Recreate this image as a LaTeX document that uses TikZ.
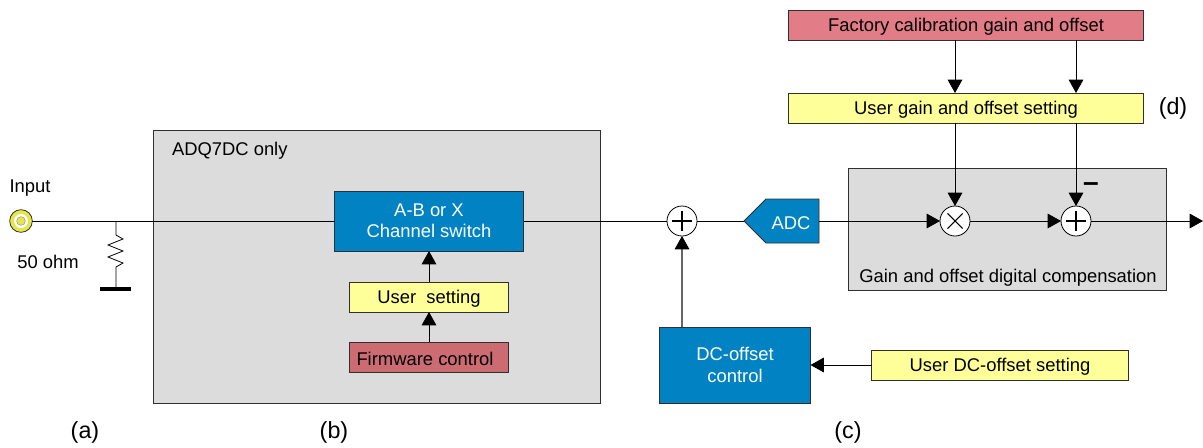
\documentclass[tikz,border=0pt]{standalone}
\usepackage{fontspec}
\setmainfont{Liberation Sans}
\usetikzlibrary{arrows.meta,positioning,calc}
\definecolor{cblue}{HTML}{0082C3}
\definecolor{cyel}{HTML}{FFFF99}
\definecolor{cred}{HTML}{E27C86}
\definecolor{cdred}{HTML}{CD6B73}
\definecolor{cgrey}{HTML}{DCDCDC}
\definecolor{cedge}{HTML}{303030}
\definecolor{cring}{HTML}{E6E64B}
\newcommand\dn[1]{\raisebox{-1.6pt}[\height][\depth]{#1}}
\tikzset{
  x=0.75pt,y=-0.75pt,
  every node/.style={font=\fontsize{13.8pt}{16pt}\selectfont,inner sep=0pt,outer sep=0pt},
  box/.style={draw=cedge,line width=0.7pt,align=center,anchor=north west},
  panel/.style={box,fill=cgrey},
  blue/.style={box,fill=cblue,text=white},
  yel/.style={box,fill=cyel},
  rd/.style={box,fill=cred},
  drd/.style={box,fill=cdred},
  wire/.style={draw=black,line width=0.6pt},
  arr/.style={wire,-{Triangle[length=10pt,width=11pt,color=black]}},
  mixer/.style={circle,draw=black,fill=white,line width=0.6pt,minimum size=22.5pt},
  plussym/.style={mixer,path picture={
    \draw[line width=0.8pt] ([xshift=-7.5pt]path picture bounding box.center) -- ([xshift=7.5pt]path picture bounding box.center);
    \draw[line width=0.8pt] ([yshift=-7.5pt]path picture bounding box.center) -- ([yshift=7.5pt]path picture bounding box.center);}},
  timessym/.style={mixer,path picture={
    \draw[line width=0.8pt] ([shift={(-5.7pt,-5.7pt)}]path picture bounding box.center) -- ([shift={(5.7pt,5.7pt)}]path picture bounding box.center);
    \draw[line width=0.8pt] ([shift={(-5.7pt,5.7pt)}]path picture bounding box.center) -- ([shift={(5.7pt,-5.7pt)}]path picture bounding box.center);}},
  lab/.style={anchor=center},
  biglab/.style={lab,font=\fontsize{17.5pt}{18pt}\selectfont},
}
\begin{document}
\begin{tikzpicture}
\useasboundingbox (0,0) rectangle (1203,447);
% panels
\node[panel,minimum width=335pt,minimum height=205pt] (pa) at (153.5,130) {};
\node[panel,minimum width=238.5pt,minimum height=91.5pt] (pb) at (848.5,168) {};
\node[lab,anchor=west] (paL) at (172,151) {ADQ7DC only};
\node[lab] (pbL) at (1008,276) {\dn{Gain and offset digital compensation}};
% boxes
\node[blue,minimum width=141.75pt,minimum height=45pt] (sw) at (334.5,191) {A-B or X\\Channel switch};
\node[yel,minimum width=119.25pt,minimum height=22.5pt] (us) at (349.5,282) {\dn{User\ \ setting}};
\node[drd,minimum width=119.25pt,minimum height=22.5pt] (fw) at (349.5,342) {\dn{Firmware control\hspace{6pt}}};
\node[blue,minimum width=113.25pt,minimum height=57pt] (dc) at (659.5,327) {DC-offset\\control};
\node[yel,minimum width=192.75pt,minimum height=22.5pt] (ud) at (871.5,350) {\dn{User DC-offset setting}};
\node[rd,minimum width=266.25pt,minimum height=22.5pt] (fac) at (788.5,10) {\dn{Factory calibration gain and offset}};
\node[yel,minimum width=266.25pt,minimum height=22.5pt] (ug) at (788.5,93) {\dn{User gain and offset setting}};
% mixers
\node[plussym] (s1) at (682,221) {};
\node[timessym] (mu) at (955,221) {};
\node[plussym] (s2) at (1076,221) {};
% ADC
\draw[draw=cedge,line width=0.7pt,fill=cblue] (744,221) -- (766,199) -- (819,199) -- (819,243) -- (766,243) -- cycle;
\coordinate (adctip) at (744,221);
\node[lab,text=white,minimum width=53pt,minimum height=33pt] (adc) at (791,221) {\dn{ADC}};
\coordinate (adcr) at (819,221);
% input connector
\node[circle,draw=cedge,fill=cring,line width=0.6pt,minimum size=17pt] (in) at (21,221) {};
\node[circle,fill=white,minimum size=10.5pt] (inw) at (21,221) {};
\node[circle,fill=cring,draw=black!50,line width=0.3pt,minimum size=6.5pt] (inc) at (21,221) {};
% resistor and ground
\coordinate (jn) at (116,221);
\coordinate (gnd) at (116,289);
\draw[wire,line join=miter] (jn) -- (116,235) -- (123,239) -- (108,245) -- (123,251) -- (108,257) -- (123,263) -- (116,267) -- (gnd);
\draw[line width=2.7pt] ([xshift=-12pt]gnd) -- ([xshift=11.5pt]gnd);
% wires
\draw[wire] (in) -- (sw.west |- in);
\draw[wire] (sw.east |- s1) -- (s1);
\draw[wire] (s1) -- (adctip);
\draw[arr] (adcr) -- (mu);
\draw[arr] (mu) -- (s2);
\coordinate (out) at (1203,221);
\draw[arr] (s2) -- (out);
\draw[arr] (us) -- (sw);
\draw[arr] (fw) -- (us);
\draw[arr,draw=black!60,line width=0.8pt] (dc.north -| s1) -- (s1);
\draw[arr] (ud) -- (dc.east |- ud);
\draw[arr] (fac.south -| mu) -- (ug.north -| mu);
\draw[arr] (fac.south -| s2) -- (ug.north -| s2);
\draw[arr] (ug.south -| mu) -- (mu);
\draw[arr] (ug.south -| s2) -- (s2);
% labels
\node[lab] (li) at (30,188) {Input};
\node[lab] (lo) at (48,262) {50 ohm};
\node[biglab] (la) at (85,432) {(a)};
\node[biglab] (lb) at (334,432) {(b)};
\node[biglab] (lc) at (848,432) {(c)};
\node[biglab] (ld) at (1173,108) {(d)};
\node[lab,font=\fontsize{21pt}{21pt}\selectfont\bfseries] (minus) at (1091,187) {–};
\end{tikzpicture}
\end{document}
